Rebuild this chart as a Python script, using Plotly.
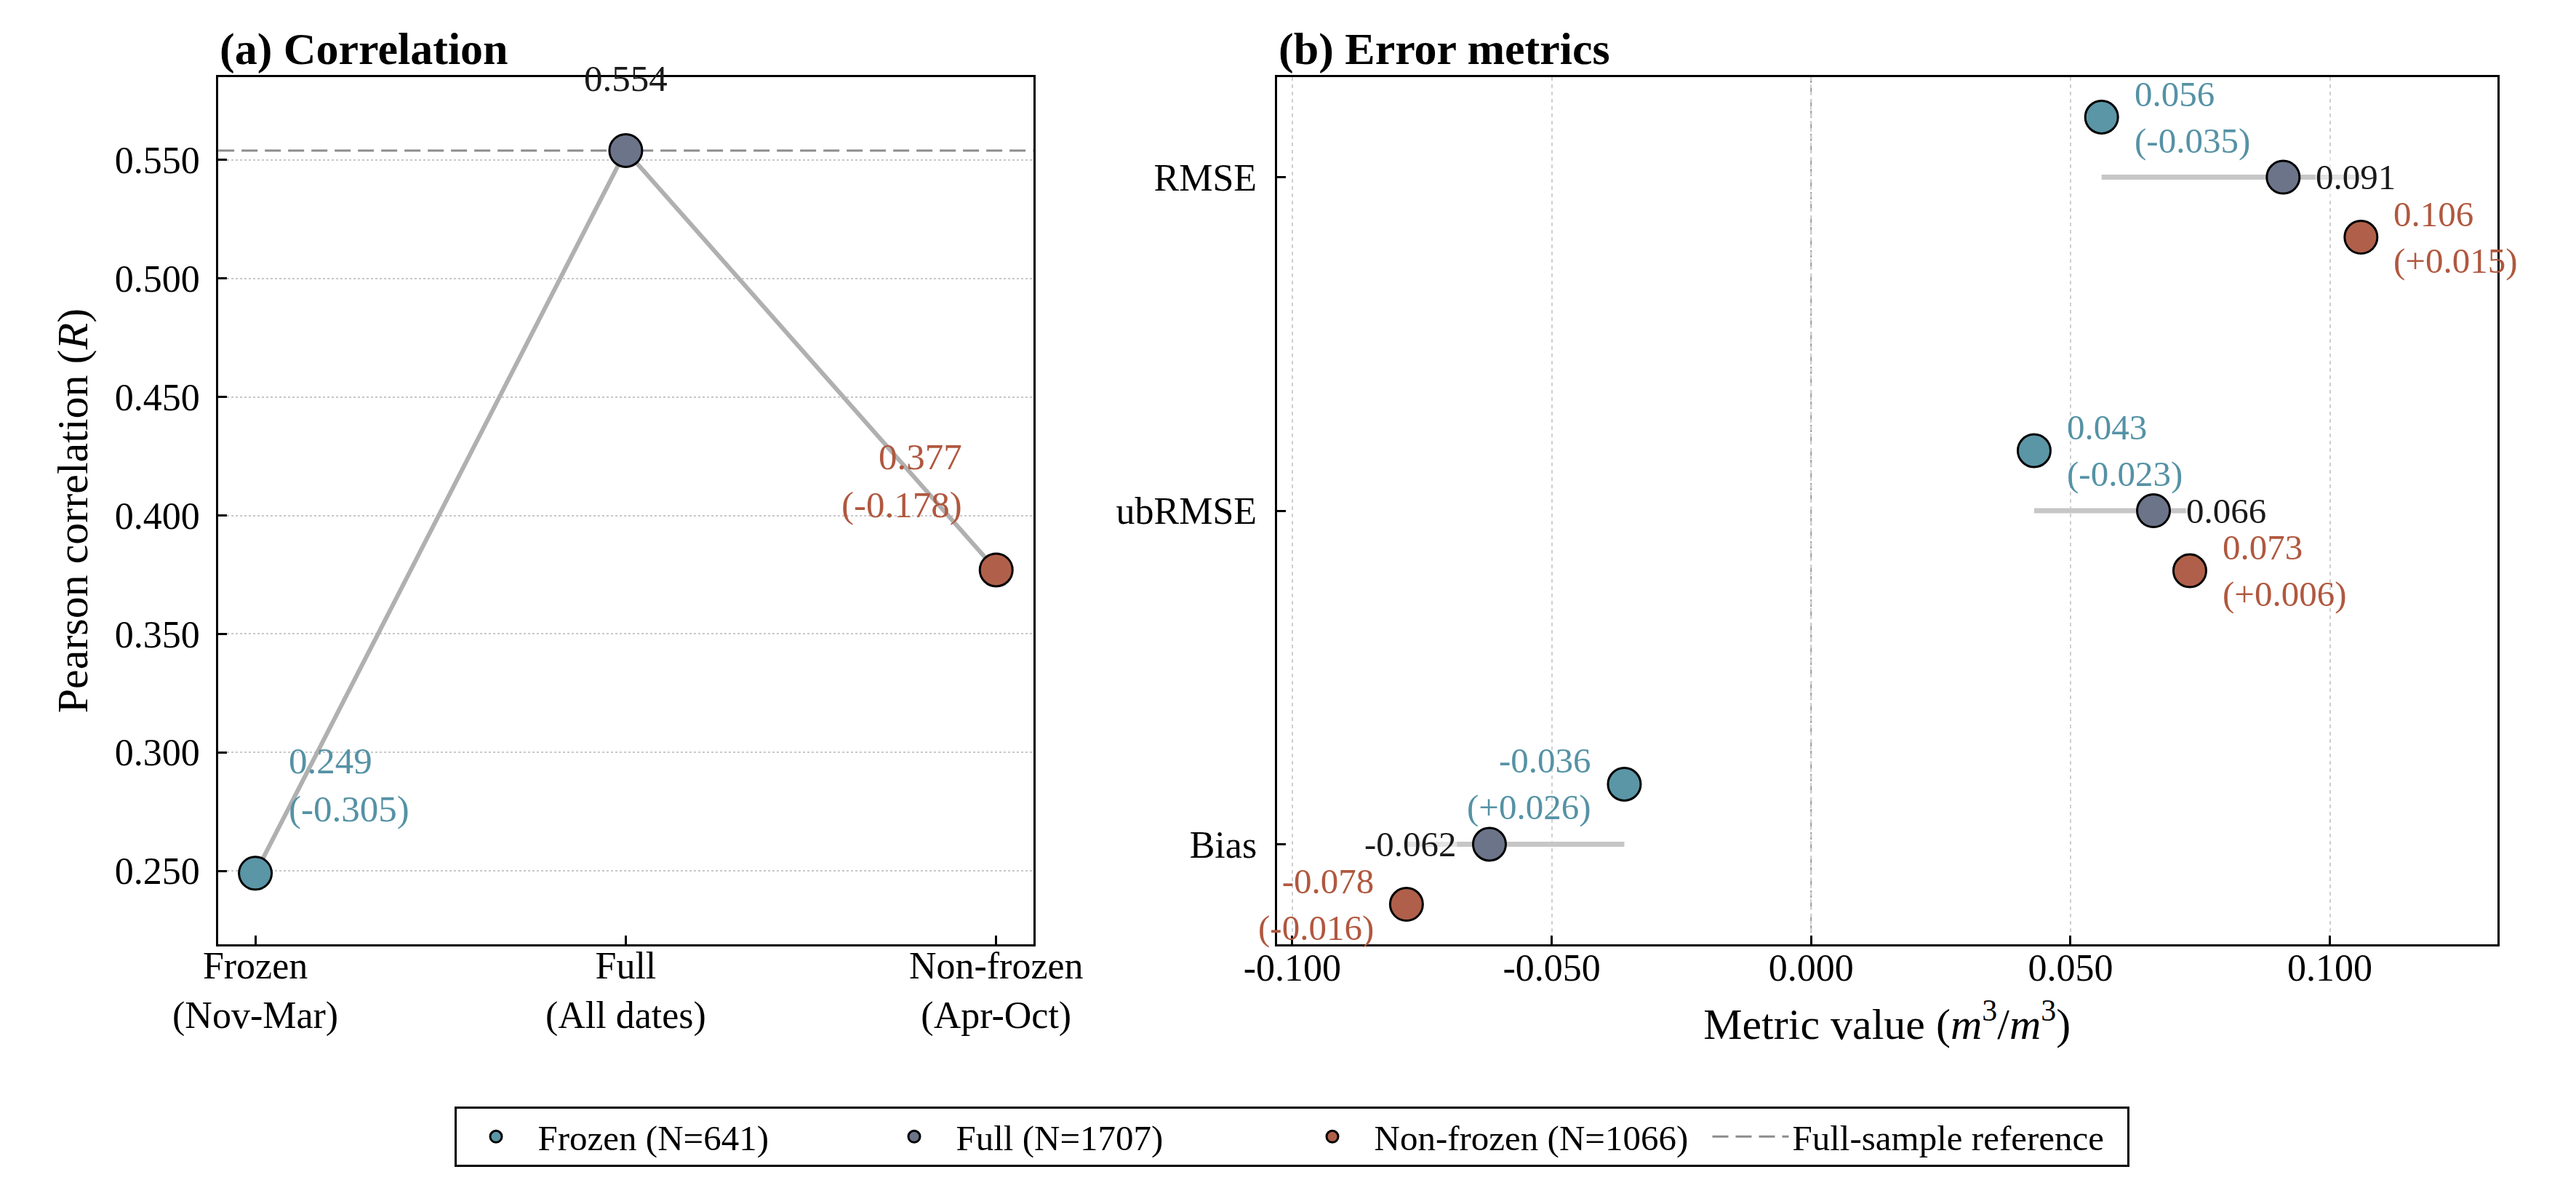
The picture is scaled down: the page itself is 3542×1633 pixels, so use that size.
import plotly.graph_objects as go
from plotly.subplots import make_subplots

# ---- data ----
groups = ["Frozen", "Full", "Non-frozen"]
legend_names = ["Frozen (N=641)", "Full (N=1707)", "Non-frozen (N=1066)"]

# (a) correlation
periods = ["Frozen<br>(Nov-Mar)", "Full<br>(All dates)", "Non-frozen<br>(Apr-Oct)"]
pearson_r = [0.249, 0.554, 0.377]
r_delta = [-0.305, None, -0.178]
r_ticks = [0.25, 0.30, 0.35, 0.40, 0.45, 0.50, 0.55]

# (b) error metrics
metrics = ["RMSE", "ubRMSE", "Bias"]
frozen_err = [0.056, 0.043, -0.036]
full_err = [0.091, 0.066, -0.062]
nonfrozen_err = [0.106, 0.073, -0.078]
frozen_delta = [-0.035, -0.023, 0.026]
nonfrozen_delta = [0.015, 0.006, -0.016]
err_ticks = [-0.10, -0.05, 0.0, 0.05, 0.10]
err_ticktext = ["-0.100", "-0.050", "0.000", "0.050", "0.100"]

# ---- style ----
FONT = "Liberation Serif"
marker_colors = ["#5a96a6", "#6b7489", "#b0604a"]
text_colors = ["#5592a5", "#1a1a1a", "#b0583f"]
offsets = [0.18, 0.0, -0.18]   # vertical dodge in panel b
MS = 45

err_vals = [frozen_err, full_err, nonfrozen_err]
err_delta = [frozen_delta, None, nonfrozen_delta]
ypos = [len(metrics) - 1 - i for i in range(len(metrics))]

fig = make_subplots(rows=1, cols=2)

# (a) connecting line then markers
fig.add_trace(go.Scatter(x=periods, y=pearson_r, mode="lines",
                         line=dict(color="#b0b0b0", width=6),
                         showlegend=False, hoverinfo="skip"), row=1, col=1)
for g in range(3):
    fig.add_trace(go.Scatter(x=[periods[g]], y=[pearson_r[g]], mode="markers",
                             name=legend_names[g], legendgroup=groups[g],
                             marker=dict(size=MS, color=marker_colors[g],
                                         line=dict(color="black", width=3))),
                  row=1, col=1)

# (b) range segments per metric (min..max)
seg_x, seg_y = [], []
for i in range(len(metrics)):
    vals = [frozen_err[i], full_err[i], nonfrozen_err[i]]
    seg_x += [min(vals), max(vals), None]
    seg_y += [ypos[i], ypos[i], None]
fig.add_trace(go.Scatter(x=seg_x, y=seg_y, mode="lines",
                         line=dict(color="#c6c6c6", width=7),
                         showlegend=False, hoverinfo="skip"), row=1, col=2)
for g in range(3):
    fig.add_trace(go.Scatter(x=err_vals[g], y=[p + offsets[g] for p in ypos],
                             mode="markers", name=legend_names[g],
                             legendgroup=groups[g], showlegend=False,
                             marker=dict(size=MS, color=marker_colors[g],
                                         line=dict(color="black", width=3))),
                  row=1, col=2)

# reference lines
fig.add_hline(y=pearson_r[1], row=1, col=1, layer="below",
              line=dict(color="#8c8c8c", width=3, dash="22px,10px"),
              showlegend=True, name="Full-sample reference")
fig.add_vline(x=0, row=1, col=2, layer="below",
              line=dict(color="#9a9a9a", width=2, dash="10px,6px"))

# ---- labels ----
ann = []
# panel a
a_pos = [dict(xanchor="left", align="left", xshift=44, yshift=121),
         dict(xanchor="center", align="center", xshift=0, yshift=99),
         dict(xanchor="right", align="right", xshift=-45, yshift=122)]
for g in range(3):
    txt = f"{pearson_r[g]:.3f}"
    if r_delta[g] is not None:
        txt += f"<br>({r_delta[g]:+.3f})"
    ann.append(dict(x=periods[g], y=pearson_r[g], xref="x", yref="y", text=txt,
                    showarrow=False, yanchor="middle",
                    font=dict(family=FONT, size=51, color=text_colors[g]),
                    **a_pos[g]))
# panel b
for g in range(3):
    for i in range(len(metrics)):
        v = err_vals[g][i]
        txt = f"{v:.3f}"
        if err_delta[g] is not None:
            txt += f"<br>({err_delta[g][i]:+.3f})"
        right = v >= 0
        ann.append(dict(x=v, y=ypos[i] + offsets[g], xref="x2", yref="y2", text=txt,
                        showarrow=False, yanchor="middle",
                        xanchor="left" if right else "right",
                        align="left" if right else "right",
                        xshift=44 if right else -44,
                        bgcolor="rgba(255,255,255,0.5)" if g == 1 else None,
                        borderpad=0,
                        font=dict(family=FONT, size=49, color=text_colors[g])))
# panel titles
for ax, title in [("", "(a) Correlation"), ("2", "(b) Error metrics")]:
    ann.append(dict(x=0, y=1, xref=f"x{ax} domain", yref=f"y{ax} domain",
                    text=f"<b>{title}</b>", showarrow=False,
                    xanchor="left", yanchor="bottom", yshift=2,
                    font=dict(family=FONT, size=62, color="black")))

axis_common = dict(showline=True, mirror=True, linecolor="black", linewidth=3,
                   ticks="inside", ticklen=12, tickwidth=3, tickcolor="black",
                   tickfont=dict(family=FONT, size=52, color="black"),
                   zeroline=False)

fig.update_layout(
    width=3542, height=1633,
    margin=dict(l=0, r=0, t=0, b=0),
    paper_bgcolor="white", plot_bgcolor="white",
    font=dict(family=FONT, color="black"),
    annotations=ann,
    xaxis=dict(domain=[0.0672, 0.3958], range=[-0.1, 2.1], showgrid=False,
               ticklabelstandoff=-18, **axis_common),
    yaxis=dict(domain=[0.21, 0.94], range=[0.219, 0.585],
               tickvals=r_ticks, tickformat=".3f",
               showgrid=True, gridcolor="#c8c8c8", griddash="dot", gridwidth=2,
               ticklabelstandoff=12,
               title=dict(text="Pearson correlation (<i>R</i>)", standoff=18,
                          font=dict(family=FONT, size=60)),
               **axis_common),
    xaxis2=dict(domain=[0.494, 0.9862], range=[-0.103, 0.1323],
                tickvals=err_ticks, ticktext=err_ticktext,
                showgrid=True, gridcolor="#cfcfcf", griddash="5px,5px", gridwidth=2,
                ticklabelstandoff=-15,
                title=dict(text="Metric value (<i>m</i><sup>3</sup>/<i>m</i><sup>3</sup>)",
                           standoff=28, font=dict(family=FONT, size=60)),
                **axis_common),
    yaxis2=dict(domain=[0.21, 0.94], range=[-0.3, 2.3],
                tickvals=ypos, ticktext=metrics, showgrid=False,
                ticklabelstandoff=14, **axis_common),
    legend=dict(orientation="h", x=0.5, xanchor="center", y=0.0735, yanchor="top",
                font=dict(family=FONT, size=49, color="black"),
                bordercolor="black", borderwidth=3, bgcolor="white",
                itemwidth=105, entrywidth=455, entrywidthmode="pixels"),
)

fig.write_html("out.html")
